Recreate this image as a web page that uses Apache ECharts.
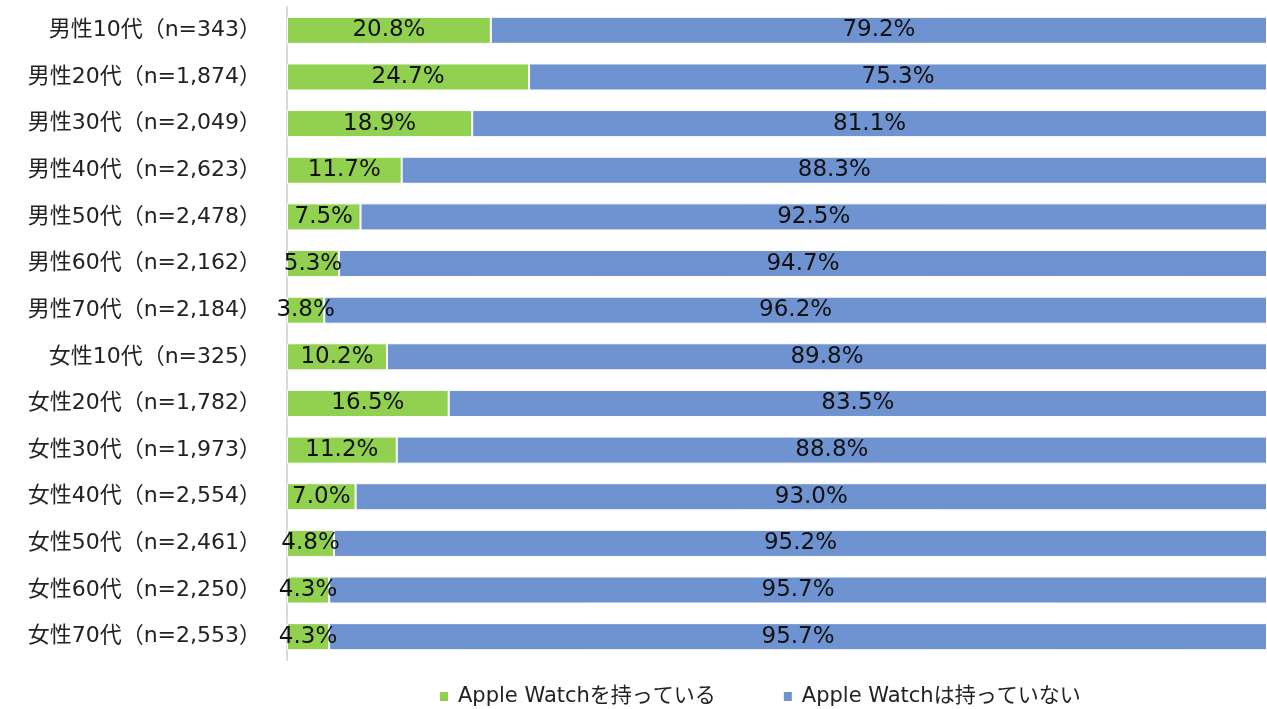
<!DOCTYPE html>
<html>
<head>
<meta charset="utf-8">
<script src="https://cdn.jsdelivr.net/npm/echarts@6/dist/echarts.min.js"></script>
<style>
  html, body { margin: 0; padding: 0; background: #fff; }
  #chart { width: 1267px; height: 709px; }
</style>
</head>
<body>
<div id="chart"></div>
<script>
// categories, top to bottom
var categories = [
    "男性10代（n=343）", "男性20代（n=1,874）", "男性30代（n=2,049）", "男性40代（n=2,623）",
    "男性50代（n=2,478）", "男性60代（n=2,162）", "男性70代（n=2,184）",
    "女性10代（n=325）", "女性20代（n=1,782）", "女性30代（n=1,973）", "女性40代（n=2,554）",
    "女性50代（n=2,461）", "女性60代（n=2,250）", "女性70代（n=2,553）"
];
var seriesNames = ["Apple Watchを持っている", "Apple Watchは持っていない"];
var hasWatch = [20.8, 24.7, 18.9, 11.7, 7.5, 5.3, 3.8, 10.2, 16.5, 11.2, 7.0, 4.8, 4.3, 4.3];
var noWatch  = [79.2, 75.3, 81.1, 88.3, 92.5, 94.7, 96.2, 89.8, 83.5, 88.8, 93.0, 95.2, 95.7, 95.7];

var font = "'DejaVu Sans', 'Noto Sans CJK JP', sans-serif";

var chart = echarts.init(document.getElementById("chart"));

function makeSeries(name, data, color) {
    return {
        name: name,
        type: "bar",
        stack: "total",
        data: data,
        barCategoryGap: "42%",
        itemStyle: { color: color, borderColor: "#fff", borderWidth: 1 },
        label: {
            show: true,
            position: "inside",
            color: "#111",
            fontSize: 23,
            fontFamily: font,
            formatter: function (p) { return p.value.toFixed(1) + "%"; }
        },
        emphasis: { disabled: true }
    };
}

chart.setOption({
    animation: false,
    grid: { left: 287, right: 0, top: 7, bottom: 49 },
    legend: {
        top: 681,
        left: 433,
        itemWidth: 10,
        itemHeight: 11,
        itemGap: 66,
        icon: "rect",
        textStyle: { fontSize: 21, fontFamily: font, color: "#222", padding: [0, 0, 0, 4] },
        data: seriesNames
    },
    xAxis: {
        type: "value",
        min: 0,
        max: 100,
        show: false
    },
    yAxis: {
        type: "category",
        inverse: true,
        data: categories,
        axisLine: { show: true, lineStyle: { color: "#d9d9d9", width: 2 } },
        axisTick: { show: false },
        axisLabel: { fontSize: 22, fontFamily: font, color: "#222", margin: 26 }
    },
    series: [
        makeSeries(seriesNames[0], hasWatch, "#92d050"),
        makeSeries(seriesNames[1], noWatch, "#6f93d0")
    ]
});
</script>
</body>
</html>
